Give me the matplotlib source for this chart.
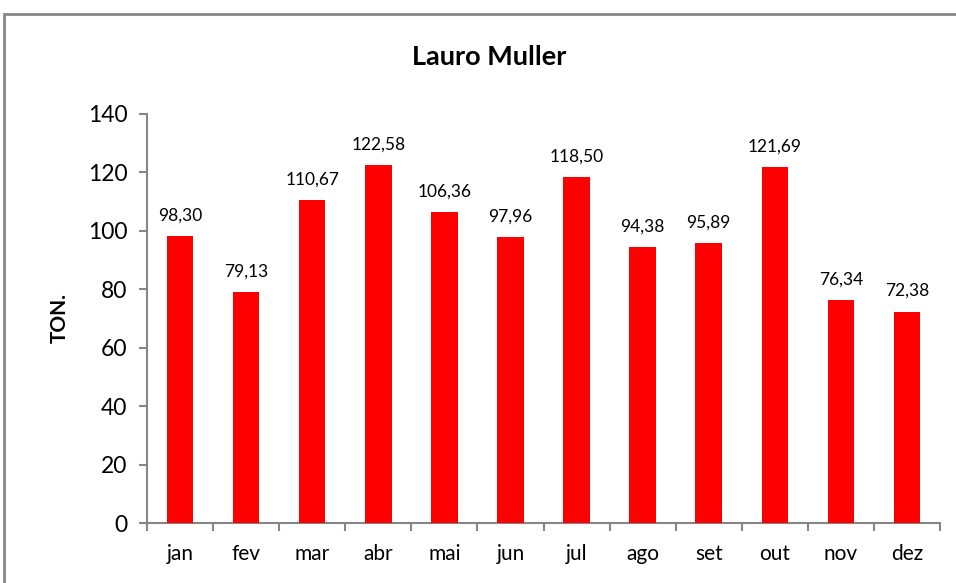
import matplotlib
matplotlib.use("Agg")
import matplotlib.pyplot as plt
from matplotlib.patches import Rectangle

months = ["jan", "fev", "mar", "abr", "mai", "jun", "jul", "ago", "set", "out", "nov", "dez"]
values = [98.30, 79.13, 110.67, 122.58, 106.36, 97.96, 118.50, 94.38, 95.89, 121.69, 76.34, 72.38]
yticks = [0, 20, 40, 60, 80, 100, 120, 140]
title = "Lauro Muller"
ylabel = "TON."

plt.rcParams['font.family'] = ['Lato', 'DejaVu Sans']

fig = plt.figure(figsize=(9.56, 5.83), dpi=100)
ax = fig.add_axes([147/956, 60/583, (940-147)/956, (523-114)/583])

x = list(range(len(months)))
ax.bar(x, values, width=0.4, color="#ff0000", zorder=3)
for xi, v in zip(x, values):
    ax.annotate(f"{v:.2f}".replace(".", ","), (xi, v), xytext=(0, 9),
                textcoords="offset points", ha="center", va="bottom", fontsize=12.5)

ax.set_xlim(-0.5, len(months) - 0.5)
ax.set_ylim(0, 140)
ax.set_yticks(yticks)
ax.set_yticklabels([str(t) for t in yticks], fontsize=16.5)
ax.set_xticks(x)
ax.set_xticklabels(months, fontsize=15)
ax.set_xticks([i - 0.5 for i in range(len(months) + 1)], minor=True)
ax.tick_params(axis="x", which="major", length=0, pad=15)
ax.tick_params(axis="x", which="minor", length=6, color="#868686", width=1.5, direction="out")
ax.tick_params(axis="y", length=6, color="#868686", width=1.5, direction="out", pad=8)

for s in ["top", "right"]:
    ax.spines[s].set_visible(False)
for s in ["left", "bottom"]:
    ax.spines[s].set_color("#868686")
    ax.spines[s].set_linewidth(1.5)

fig.text(489/956, 1 - 57/583, title, ha="center", va="center", fontsize=19.5, fontweight="bold")
fig.text(60/956, 1 - 318/583, ylabel, ha="center", va="center", rotation=90, fontsize=15, fontweight="bold")

border = Rectangle((4/956, -0.05), 1.1, 1 - 14/583 + 0.05, transform=fig.transFigure,
                   fill=False, edgecolor="#868686", linewidth=2, clip_on=False)
fig.patches.append(border)

fig.savefig("out.png", dpi=100)
